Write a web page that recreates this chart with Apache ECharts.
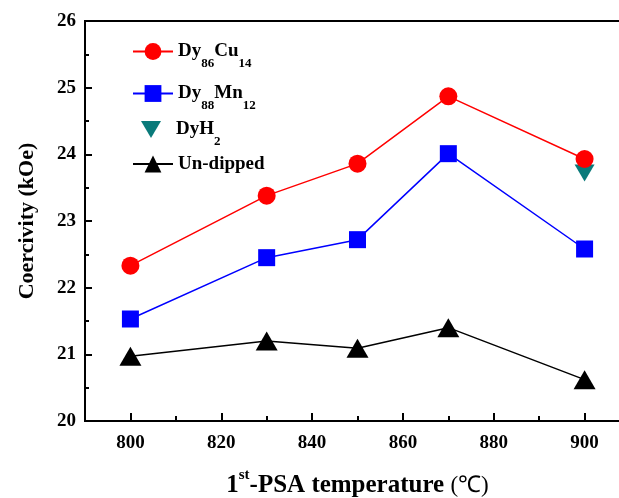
<!DOCTYPE html>
<html>
<head>
<meta charset="utf-8">
<script src="https://cdn.jsdelivr.net/npm/echarts@6/dist/echarts.min.js"></script>
<style>
html,body{margin:0;padding:0;background:#fff;}
#c{width:619px;height:498px;}
</style>
</head>
<body>
<div id="c"></div>
<script>
// ---- data ----
const temps = [800, 830, 850, 870, 900];
const dyCu = [22.33, 23.38, 23.86, 24.87, 23.93];
const dyMn = [21.53, 22.45, 22.72, 24.01, 22.58];
const unDipped = [20.97, 21.20, 21.09, 21.40, 20.62];
const dyH2Temps = [900];
const dyH2 = [23.72];
const xMajorTicks = [800, 820, 840, 860, 880, 900];
const xMinorTicks = [810, 830, 850, 870, 890];
const names = ['Dy86Cu14', 'Dy88Mn12', 'DyH2', 'Un-dipped'];

const FONT = '"Liberation Serif", "Times New Roman", serif';
const pair = (xs, ys) => xs.map((x, i) => [x, ys[i]]);
const invTri = 'path://M0,0 L20,0 L10,17 Z';

const legendRich = {
  m: {fontFamily: FONT, fontWeight: 'bold', fontSize: 19, lineHeight: 20, color: '#000', verticalAlign: 'middle'},
  s: {fontFamily: FONT, fontWeight: 'bold', fontSize: 13, lineHeight: 14, color: '#000', padding: [24, 0, 0, 0], verticalAlign: 'middle'}
};
const legendLabels = {
  'Dy86Cu14': '{m|Dy}{s|86}{m|Cu}{s|14}',
  'Dy88Mn12': '{m|Dy}{s|88}{m|Mn}{s|12}',
  'DyH2': '{m|DyH}{s|2}',
  'Un-dipped': '{m|Un-dipped}'
};
const legendTops = [33, 75, 111, 154.5];
const legendLefts = [132, 132, 141, 132];
const legendItemH = [21, 21, 17, 21];

const chart = echarts.init(document.getElementById('c'), null, {renderer: 'canvas'});
chart.setOption({
  backgroundColor: '#fff',
  animation: false,
  grid: {left: 85, top: 21, width: 545, bottom: 77, outerBoundsMode: 'none', containLabel: false,
         show: true, borderColor: '#000', borderWidth: 2, backgroundColor: 'transparent'},
  legend: names.map((n, i) => ({
    data: [n],
    left: legendLefts[i],
    top: legendTops[i],
    padding: 0,
    itemWidth: 40,
    itemHeight: legendItemH[i],
    formatter: (name) => legendLabels[name],
    textStyle: {rich: legendRich},
    selectedMode: false
  })),
  xAxis: [{
    type: 'value', min: 790, max: 910,
    axisLine: {show: true, onZero: false, lineStyle: {color: '#000', width: 2}},
    axisTick: {show: true, inside: true, length: 8, customValues: xMajorTicks, lineStyle: {color: '#000', width: 2}},
    axisLabel: {customValues: xMajorTicks, margin: 13, fontFamily: FONT, fontWeight: 'bold', fontSize: 19, color: '#000'},
    splitLine: {show: false},
    name: '{m|1}{sup|st}{m|-PSA temperature }{n|(℃)}',
    nameLocation: 'middle',
    nameGap: 52,
    nameTextStyle: {
      rich: {
        m: {fontFamily: FONT, fontWeight: 'bold', fontSize: 25, lineHeight: 25, color: '#000', verticalAlign: 'middle'},
        sup: {fontFamily: FONT, fontWeight: 'bold', fontSize: 15, lineHeight: 15, color: '#000', padding: [0, 0, 20, 0], verticalAlign: 'middle'},
        n: {fontFamily: FONT, fontWeight: 'normal', fontSize: 23, lineHeight: 25, color: '#000', verticalAlign: 'middle'}
      }
    }
  }, {
    type: 'value', min: 790, max: 910, position: 'bottom',
    axisLine: {show: false},
    axisTick: {show: true, inside: true, length: 5, customValues: xMinorTicks, lineStyle: {color: '#000', width: 2}},
    axisLabel: {show: false},
    splitLine: {show: false}
  }],
  yAxis: {
    type: 'value', min: 20, max: 26, interval: 1,
    axisLine: {show: true, lineStyle: {color: '#000', width: 2}},
    axisTick: {show: true, inside: true, length: 7, lineStyle: {color: '#000', width: 2}},
    minorTick: {show: true, splitNumber: 2, length: 4, lineStyle: {color: '#000', width: 2}},
    axisLabel: {margin: 9, fontFamily: FONT, fontWeight: 'bold', fontSize: 19, color: '#000'},
    splitLine: {show: false},
    name: 'Coercivity (kOe)',
    nameLocation: 'middle',
    nameGap: 47,
    nameTextStyle: {fontFamily: FONT, fontWeight: 'bold', fontSize: 22, color: '#000'}
  },
  series: [{
    name: 'DyH2', type: 'scatter', data: pair(dyH2Temps, dyH2),
    symbol: invTri, symbolSize: [20, 17], symbolKeepAspect: false,
    itemStyle: {color: '#0a7a7a', opacity: 1}, z: 2
  }, {
    name: 'Dy86Cu14', type: 'line', data: pair(temps, dyCu),
    symbol: 'circle', symbolSize: 18,
    lineStyle: {color: '#ff0000', width: 1.5}, itemStyle: {color: '#ff0000'}, z: 3
  }, {
    name: 'Dy88Mn12', type: 'line', data: pair(temps, dyMn),
    symbol: 'rect', symbolSize: 17,
    lineStyle: {color: '#0000ff', width: 1.5}, itemStyle: {color: '#0000ff'}, z: 3
  }, {
    name: 'Un-dipped', type: 'line', data: pair(temps, unDipped),
    symbol: 'triangle', symbolSize: [22, 19],
    lineStyle: {color: '#000', width: 1.5}, itemStyle: {color: '#000'}, z: 3
  }]
});
</script>
</body>
</html>
